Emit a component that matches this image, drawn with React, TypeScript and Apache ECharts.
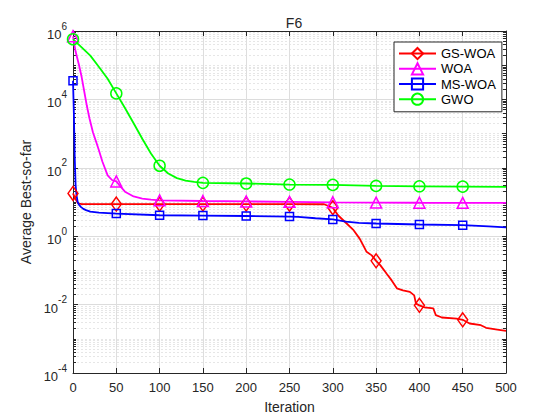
import { useEffect, useRef } from 'react'
import * as echarts from 'echarts'

// iterations / average best-so-far values
const gsWoa: Array<[number, number]> = [
  [0, 17.8], [3, 12], [6, 9.1], [10, 8.7], [50, 8.7], [100, 8.7], [150, 8.7], [200, 8.7],
  [250, 8.65], [290, 8.6], [300, 6.8], [306, 4.1], [316, 2.35], [324, 1.5], [331, 0.85],
  [335, 0.55], [339, 0.35], [345, 0.275], [350, 0.19], [355, 0.14], [362, 0.081], [368, 0.051],
  [374, 0.03], [381, 0.026], [389, 0.0235], [394, 0.0186], [396, 0.0107], [400, 0.0095],
  [406, 0.0083], [416, 0.0078], [419, 0.0049], [426, 0.0042], [443, 0.0039], [450, 0.0036],
  [458, 0.0028], [471, 0.0025], [477, 0.0021], [490, 0.00186], [500, 0.0017],
]
const woa: Array<[number, number]> = [
  [0, 7.0e5], [3, 2.5e5], [7, 1.0e5], [10, 4.5e4], [13, 1.7e4], [16, 6.5e3], [19, 2.8e3],
  [23, 1.1e3], [27, 550], [30, 320], [34, 150], [40, 60], [45, 44], [50, 40], [55, 28],
  [60, 20], [70, 14.5], [80, 12.6], [90, 11.7], [100, 11.2], [150, 10.7], [200, 10.4],
  [250, 10.1], [300, 9.8], [350, 9.6], [400, 9.5], [450, 9.45], [500, 9.4],
]
const msWoa: Array<[number, number]> = [
  [0, 3.5e4], [1, 4.0e3], [2, 200], [3, 32], [4, 16], [5.4, 10], [7, 8.3], [9, 7.2],
  [12, 6.3], [15, 5.8], [20, 5.25], [30, 4.9], [50, 4.6], [100, 4.1], [150, 4.0], [200, 3.9],
  [250, 3.75], [260, 3.65], [280, 3.35], [300, 3.1], [315, 2.65], [330, 2.45], [350, 2.35],
  [400, 2.2], [450, 2.1], [480, 1.95], [500, 1.8],
]
const gwo: Array<[number, number]> = [
  [0, 5.75e5], [10, 3.3e5], [20, 1.9e5], [30, 8.9e4], [40, 4.0e4], [50, 1.5e4], [60, 5.6e3],
  [70, 2.0e3], [80, 710], [90, 263], [100, 115], [110, 68], [120, 50], [130, 42], [140, 38.5],
  [150, 36.3], [200, 34.7], [250, 32.4], [300, 31.6], [350, 29.5], [400, 28.8], [450, 28.2],
  [500, 27.5],
]

const markerIters = [0, 50, 100, 150, 200, 250, 300, 350, 400, 450]
const xTicks = [0, 50, 100, 150, 200, 250, 300, 350, 400, 450, 500]
const yExponents = [-4, -2, 0, 2, 4, 6]

const FONT = '"Liberation Sans", Arial, Helvetica, sans-serif'
const INK = '#262626'

function withMarkers(points: Array<[number, number]>) {
  return points.map(([x, y]) => (markerIters.includes(x) ? [x, y] : { value: [x, y], symbol: 'none' }))
}

function makeSeries(name: string, points: Array<[number, number]>, color: string, symbol: string, size: number | number[]) {
  return {
    name,
    type: 'line',
    xAxisIndex: 0,
    yAxisIndex: 1,
    data: withMarkers(points),
    symbol,
    symbolSize: size,
    showAllSymbol: true,
    lineStyle: { color, width: 1.8 },
    itemStyle: { color: 'rgba(255,255,255,0)', borderColor: color, borderWidth: 1.5 },
  }
}

export default function App() {
  const ref = useRef<HTMLDivElement | null>(null)
  useEffect(() => {
    if (!ref.current) return
    const chart = echarts.init(ref.current, null, { renderer: 'svg' })
    const yBase = { type: 'log', logBase: 10, min: 1e-4, max: 1e6 }
    chart.setOption({
      animation: false,
      backgroundColor: '#fff',
      textStyle: { fontFamily: FONT },
      title: {
        text: 'F6', left: 289, top: 11, textAlign: 'center',
        textStyle: { fontSize: 14, fontWeight: 'normal', color: INK, fontFamily: FONT },
      },
      legend: {
        left: 394, top: 42, orient: 'vertical',
        padding: [5, 6, 6, 4], itemGap: 2, itemWidth: 37, itemHeight: 14,
        borderColor: INK, borderWidth: 1, backgroundColor: '#fff',
        textStyle: { fontSize: 13, color: '#000', fontFamily: FONT },
        data: ['GS-WOA', 'WOA', 'MS-WOA', 'GWO'],
      },
      grid: { left: 73, right: 54, top: 31, bottom: 47 },
      xAxis: [
        {
          type: 'value', min: 0, max: 500, interval: 50, position: 'bottom',
          name: 'Iteration', nameLocation: 'middle', nameGap: 27,
          nameTextStyle: { fontSize: 14, color: INK, fontFamily: FONT },
          axisLine: { lineStyle: { color: INK, width: 1 } },
          axisTick: { inside: true, length: 5, lineStyle: { color: INK } },
          axisLabel: {
            fontSize: 13, color: INK, margin: 8, fontFamily: FONT,
            formatter: (v: number) => (xTicks.includes(v) ? String(v) : ''),
          },
          splitLine: { show: true, lineStyle: { color: '#dedede', width: 1 } },
        },
        {
          type: 'value', min: 0, max: 500, interval: 50, position: 'top',
          axisLine: { lineStyle: { color: INK, width: 1 } },
          axisTick: { inside: true, length: 5, lineStyle: { color: INK } },
          axisLabel: { show: false },
          splitLine: { show: false },
        },
      ],
      yAxis: [
        {
          ...yBase, interval: 1, position: 'left',
          axisLine: { show: true, lineStyle: { color: INK } },
          axisTick: { show: true, inside: true, length: 3, lineStyle: { color: INK } },
          minorTick: { show: true, splitNumber: 9, length: 3, lineStyle: { color: INK } },
          axisLabel: { show: false },
          splitLine: { show: true, lineStyle: { color: '#e6e6e6', type: [2, 2] } },
          minorSplitLine: { show: true, lineStyle: { color: '#e6e6e6', type: [2, 2] } },
        },
        {
          ...yBase, interval: 2, position: 'left',
          name: 'Average Best-so-far', nameLocation: 'middle', nameGap: 37,
          nameTextStyle: { fontSize: 14, color: INK, fontFamily: FONT },
          axisLine: { show: true, lineStyle: { color: INK } },
          axisTick: { show: true, inside: true, length: 5, lineStyle: { color: INK } },
          axisLabel: {
            color: INK, margin: 6, fontFamily: FONT,
            formatter: (v: number) => {
              const e = yExponents.find((k) => Math.abs(Math.log10(v) - k) < 1e-6)
              return e === undefined ? '' : `{b|10}{s|${e}}`
            },
            rich: {
              b: { fontSize: 13, color: INK, fontFamily: FONT, lineHeight: 20, verticalAlign: 'bottom' },
              s: { fontSize: 10, color: INK, fontFamily: FONT, lineHeight: 12, verticalAlign: 'top' },
            },
          },
          splitLine: { show: true, lineStyle: { color: '#dcdcdc', width: 1 } },
        },
        {
          ...yBase, interval: 1, position: 'right',
          axisLine: { show: true, lineStyle: { color: INK } },
          axisTick: { show: true, inside: true, length: 4, lineStyle: { color: INK } },
          minorTick: { show: true, splitNumber: 9, length: 3, lineStyle: { color: INK } },
          axisLabel: { show: false },
          splitLine: { show: false },
        },
      ],
      series: [
        makeSeries('GS-WOA', gsWoa, '#ff0000', 'diamond', [10, 14]),
        makeSeries('WOA', woa, '#ff00ff', 'triangle', 11),
        makeSeries('MS-WOA', msWoa, '#0000ff', 'rect', 8),
        makeSeries('GWO', gwo, '#00ff00', 'circle', 11),
      ],
    })
    return () => chart.dispose()
  }, [])

  return <div ref={ref} style={{ position: 'fixed', left: 0, top: 0, width: 560, height: 420 }} />
}
